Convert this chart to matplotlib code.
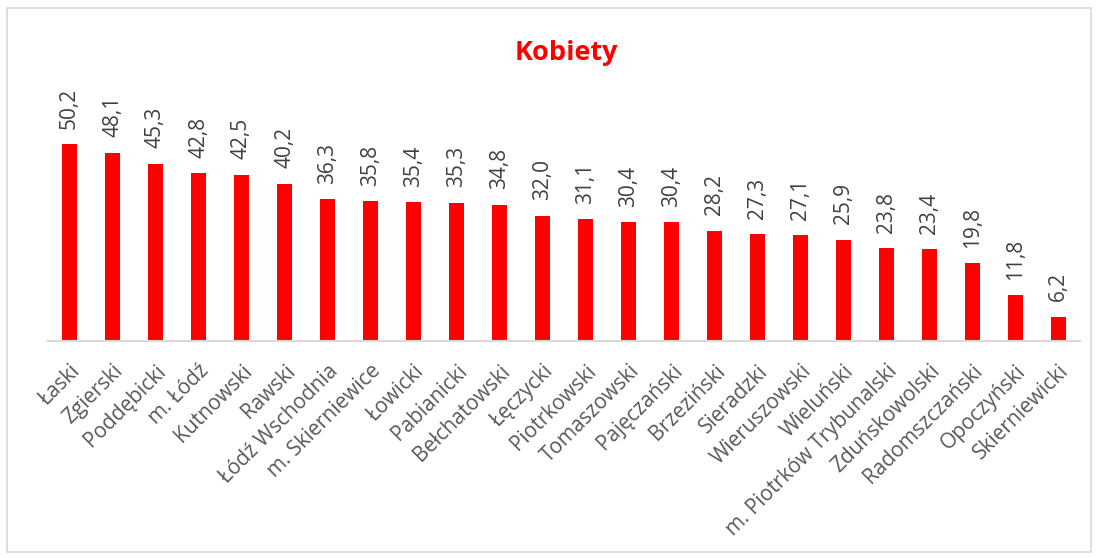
import matplotlib.pyplot as plt
from matplotlib.patches import Rectangle

powiaty = ["Łaski", "Zgierski", "Poddębicki", "m. Łódź", "Kutnowski", "Rawski",
           "Łódź Wschodnia", "m. Skierniewice", "Łowicki", "Pabianicki", "Bełchatowski",
           "Łęczycki", "Piotrkowski", "Tomaszowski", "Pajęczański", "Brzeziński",
           "Sieradzki", "Wieruszowski", "Wieluński", "m. Piotrków Trybunalski",
           "Zduńskowolski", "Radomszczański", "Opoczyński", "Skierniewicki"]
wartosci = [50.2, 48.1, 45.3, 42.8, 42.5, 40.2, 36.3, 35.8, 35.4, 35.3, 34.8,
            32.0, 31.1, 30.4, 30.4, 28.2, 27.3, 27.1, 25.9, 23.8, 23.4, 19.8, 11.8, 6.2]

W, H = 1098, 558
fig = plt.figure(figsize=(W / 100, H / 100), dpi=100)
plt.rcParams['font.family'] = ['Open Sans', 'DejaVu Sans']

# axes placed in pixel coords: x 48..1080, baseline y=341, top y=106 (ymax=60)
ax = fig.add_axes([48 / W, (H - 341) / H, (1080 - 48) / W, (341 - 106) / H])
x = list(range(len(powiaty)))
ax.bar(x, wartosci, width=0.33, color="#ff0000")
ax.set_xlim(-0.5, len(powiaty) - 0.5)
ax.set_ylim(0, 60)

for xi, v in zip(x, wartosci):
    ax.annotate(f"{v:.1f}".replace(".", ","), (xi, v), xytext=(0, 11),
                textcoords="offset points", rotation=90, ha="center", va="bottom",
                fontsize=15, color="#404040")

ax.set_xticks(x)
ax.set_xticklabels(powiaty, rotation=45, ha="right", rotation_mode="anchor",
                   fontsize=15, color="#595959")
ax.tick_params(axis="x", length=0, pad=14)
ax.set_yticks([])
for s in ["top", "right", "left"]:
    ax.spines[s].set_visible(False)
ax.spines["bottom"].set_color("#d9d9d9")
ax.spines["bottom"].set_linewidth(1.5)

fig.text(566 / W, 1 - 53 / H, "Kobiety", ha="center", va="center",
         fontsize=19.5, fontweight="bold", color="#ff0000")

fig.patches.append(Rectangle((7 / W, 6 / H), (1091 - 7) / W, (551 - 7) / H,
                             transform=fig.transFigure, fill=False,
                             edgecolor="#d9d9d9", linewidth=1.2))

fig.savefig("out.png", dpi=100)
